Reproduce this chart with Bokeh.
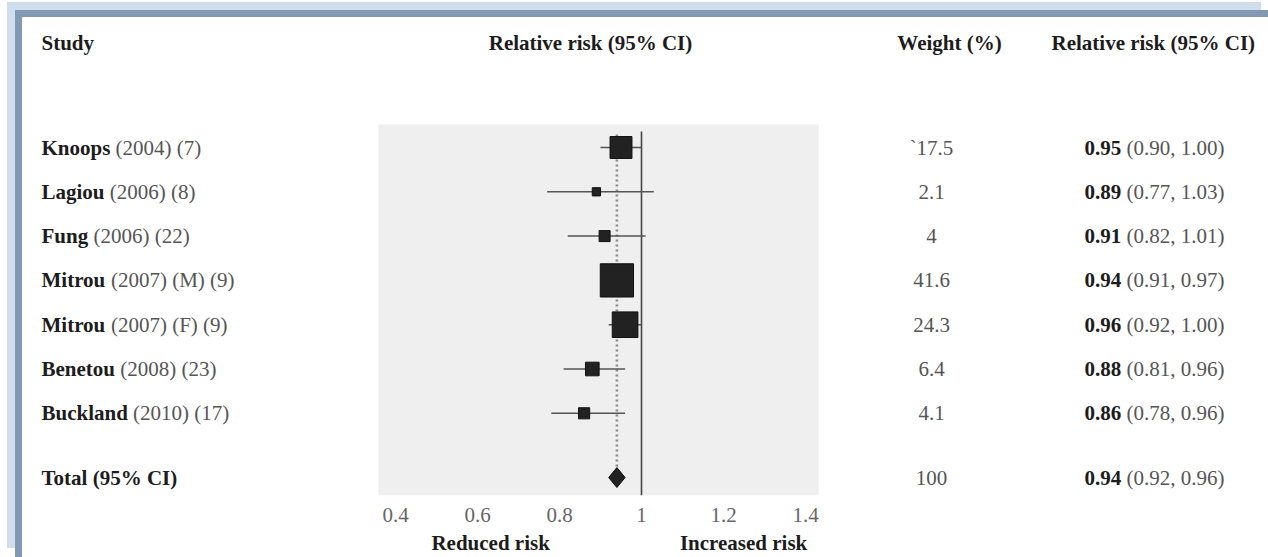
import math
from bokeh.plotting import figure
from bokeh.models import (Range1d, FixedTicker, LinearAxis, BoxAnnotation,
                          ColumnDataSource)
from bokeh.core.properties import value
from bokeh.embed import file_html
from bokeh.resources import INLINE

# ---------------- data ----------------
authors = ["Knoops", "Lagiou", "Fung", "Mitrou", "Mitrou", "Benetou", "Buckland"]
details = ["(2004) (7)", "(2006) (8)", "(2006) (22)", "(2007) (M) (9)",
           "(2007) (F) (9)", "(2008) (23)", "(2010) (17)"]
rr = [0.95, 0.89, 0.91, 0.94, 0.96, 0.88, 0.86]
ci_low = [0.90, 0.77, 0.82, 0.91, 0.92, 0.81, 0.78]
ci_high = [1.00, 1.03, 1.01, 0.97, 1.00, 0.96, 0.96]
weights = [17.5, 2.1, 4, 41.6, 24.3, 6.4, 4.1]
weight_labels = ["`17.5", "2.1", "4", "41.6", "24.3", "6.4", "4.1"]

total_label = "Total (95% CI)"
total_rr = 0.94
total_low = 0.92
total_high = 0.96
total_weight_label = "100"

null_value = 1.0
x_ticks = [0.4, 0.6, 0.8, 1.0, 1.2, 1.4]
x_tick_labels = ["0.4", "0.6", "0.8", "1", "1.2", "1.4"]
axis_min, axis_max = 0.3585, 1.432

header_study = "Study"
header_plot = "Relative risk (95% CI)"
header_weight = "Weight (%)"
header_rr = "Relative risk (95% CI)"
note_labels = ["Reduced risk", "Increased risk"]
note_at = [0.632, 1.249]

# ---------------- layout helpers ----------------
W, H = 1268, 557
BOTTOM = 62                     # axis band height
FRAME_H = H - BOTTOM
PX_PER_UNIT = 410.0
PX_AT_04 = 395.0
ROW0_PX = 147.0
ROW_PX = 44.3

x_start = 0.4 - PX_AT_04 / PX_PER_UNIT
x_end = x_start + W / PX_PER_UNIT
y_top = -ROW0_PX / ROW_PX
y_bottom = (FRAME_H - ROW0_PX) / ROW_PX


def sx(px):
    return x_start + px / PX_PER_UNIT


def sy(py):
    return y_top + py / ROW_PX


FONT = "Liberation Serif"
FS = 21
DARK = "#1c1c1c"
GREY = "#555555"

# Times-Bold advance widths (1/1000 em) for text offsets
BOLD_W = {" ": 250, ".": 250, "K": 778, "n": 556, "o": 500, "p": 556, "s": 389,
          "L": 667, "a": 500, "g": 500, "i": 278, "u": 556, "F": 611, "M": 944,
          "t": 333, "r": 444, "B": 667, "e": 444, "c": 444, "k": 556, "l": 278,
          "d": 556}
for d in "0123456789":
    BOLD_W[d] = 500


def bold_width(s):
    return sum(BOLD_W.get(ch, 500) for ch in s) * FS / 1000.0 + 0.25 * FS


rows = list(range(len(authors)))
total_y = len(authors) + 0.45

light, dark = "#cfdded", "#8299b3"
page_bg = ", ".join([
    f"linear-gradient({light},{light}) 7px 2px / 1254px 8px no-repeat",
    f"linear-gradient({light},{light}) 7px 2px / 8px 546px no-repeat",
    f"linear-gradient({dark},{dark}) 15px 10px / 1253px 7px no-repeat",
    f"linear-gradient({dark},{dark}) 15px 10px / 7px 547px no-repeat",
    "white",
])

p = figure(width=W, height=H, x_range=Range1d(x_start, x_end),
           y_range=Range1d(y_bottom, y_top), output_backend="svg",
           toolbar_location=None, x_axis_type=None, y_axis_type=None,
           min_border_left=0, min_border_right=0, min_border_top=0,
           min_border_bottom=BOTTOM, styles={"background": page_bg})
p.grid.visible = False
p.outline_line_color = None
p.background_fill_alpha = 0
p.border_fill_alpha = 0

# plot panel background
p.add_layout(BoxAnnotation(left=axis_min, right=axis_max, top=sy(124), bottom=y_bottom,
                           fill_color="#efefef", fill_alpha=1, line_color=None,
                           level="underlay"))

# reference lines
p.segment(x0=[null_value], x1=[null_value], y0=[sy(131)], y1=[y_bottom],
          line_color="#444444", line_width=1.6)
p.segment(x0=[total_rr], x1=[total_rr], y0=[sy(134)], y1=[total_y],
          line_color="#8a8a8a", line_width=2.6, line_dash="2 3")

# confidence intervals + squares
src = ColumnDataSource(dict(
    y=rows, rr=rr, lo=ci_low, hi=ci_high,
    size=[5.0 * math.sqrt(w) + 1 for w in weights],
    author=authors, detail=details,
    det_off=[bold_width(a) for a in authors],
    wlab=weight_labels,
    rrb=["%.2f" % v for v in rr],
    rrci=["(%.2f, %.2f)" % (a, b) for a, b in zip(ci_low, ci_high)],
    rr_off=[bold_width("%.2f" % v) for v in rr],
))
p.segment(x0="lo", x1="hi", y0="y", y1="y", source=src,
          line_color="#555555", line_width=1.5)
p.scatter(x="rr", y="y", size="size", marker="square", source=src,
          fill_color="#222222", line_color="#111111", line_width=1)

# pooled diamond
dh = 10.0 / ROW_PX
p.patch(x=[total_low, total_rr, total_high, total_rr],
        y=[total_y, total_y - dh, total_y, total_y + dh],
        fill_color="#222222", line_color="#111111", line_width=1)

# ----- texts -----
common = dict(text_font=value(FONT), text_font_size=f"{FS}px", text_baseline="middle")
p.text(x=sx(41), y="y", text="author", source=src, text_color=DARK,
       text_font_style="bold", text_align="left", **common)
p.text(x=sx(41), y="y", text="detail", x_offset="det_off", source=src,
       text_color=GREY, text_align="left", **common)
p.text(x=[sx(41)], y=[total_y], text=[total_label], text_color=DARK,
       text_font_style="bold", text_align="left", **common)

p.text(x=sx(931), y="y", text="wlab", source=src, text_color=GREY,
       text_align="center", **common)
p.text(x=[sx(931)], y=[total_y], text=[total_weight_label], text_color=GREY,
       text_align="center", **common)

tot_src = ColumnDataSource(dict(y=[total_y], rrb=["%.2f" % total_rr],
                                rrci=["(%.2f, %.2f)" % (total_low, total_high)],
                                rr_off=[bold_width("%.2f" % total_rr)]))
for s in (src, tot_src):
    p.text(x=sx(1084), y="y", text="rrb", source=s, text_color=DARK,
           text_font_style="bold", text_align="left", **common)
    p.text(x=sx(1084), y="y", text="rrci", x_offset="rr_off", source=s,
           text_color=GREY, text_align="left", **common)

hy = sy(42)
p.text(x=[sx(41)], y=[hy], text=[header_study], text_color=DARK,
       text_font_style="bold", text_align="left", **common)
p.text(x=[sx(590)], y=[hy], text=[header_plot], text_color=DARK,
       text_font_style="bold", text_align="center", **common)
p.text(x=[sx(949)], y=[hy], text=[header_weight], text_color=DARK,
       text_font_style="bold", text_align="center", **common)
p.text(x=[sx(1051)], y=[hy], text=[header_rr], text_color=DARK,
       text_font_style="bold", text_align="left", **common)

# x axis (tick values)
ax = LinearAxis(ticker=FixedTicker(ticks=x_ticks),
                major_label_overrides={t: l for t, l in zip(x_ticks, x_tick_labels)})
ax.axis_line_color = None
ax.major_tick_line_color = None
ax.minor_tick_line_color = None
ax.major_label_text_font = FONT
ax.major_label_text_font_size = f"{FS}px"
ax.major_label_text_color = "#666666"
ax.major_label_standoff = 6
p.add_layout(ax, "below")

# second axis row: direction notes
ax2 = LinearAxis(ticker=FixedTicker(ticks=note_at),
                 major_label_overrides={t: l for t, l in zip(note_at, note_labels)})
ax2.axis_line_color = None
ax2.major_tick_line_color = None
ax2.minor_tick_line_color = None
ax2.major_label_text_font = FONT
ax2.major_label_text_font_size = f"{FS}px"
ax2.major_label_text_font_style = "bold"
ax2.major_label_text_color = DARK
ax2.major_label_standoff = 0
p.add_layout(ax2, "below")

open("out.html", "w").write(file_html(p, INLINE))
